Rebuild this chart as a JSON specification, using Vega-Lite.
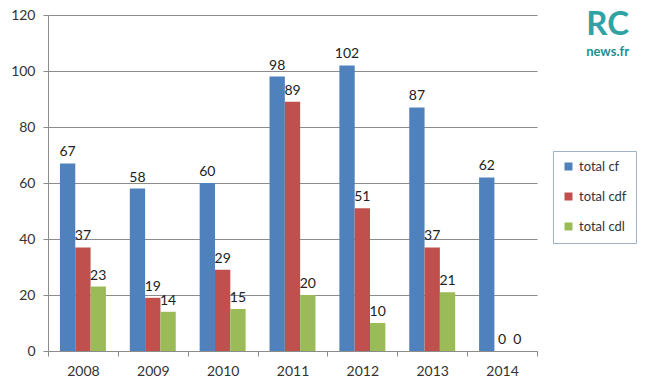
{
  "$schema": "https://vega.github.io/schema/vega-lite/v6.json",
  "autosize": {"type": "none"},
  "width": 489,
  "height": 336,
  "padding": {"left": 48, "top": 15, "right": 113, "bottom": 38},
  "background": "white",
  "config": {
    "font": "Lato",
    "view": {"stroke": null}
  },
  "title": {
    "text": "RC",
    "subtitle": "news.fr",
    "anchor": "end",
    "frame": "group",
    "orient": "top",
    "offset": -51,
    "dx": 92,
    "fontSize": 33,
    "fontWeight": "bold",
    "font": "Lato",
    "color": "#2fa3a3",
    "subtitleFont": "Lato",
    "subtitleFontSize": 13,
    "subtitleFontWeight": "bold",
    "subtitleColor": "#1f8f8f",
    "subtitlePadding": 4
  },
  "data": {
    "values": [
      {"year": "2008", "series": "total cf", "value": 67},
      {"year": "2008", "series": "total cdf", "value": 37},
      {"year": "2008", "series": "total cdl", "value": 23},
      {"year": "2009", "series": "total cf", "value": 58},
      {"year": "2009", "series": "total cdf", "value": 19},
      {"year": "2009", "series": "total cdl", "value": 14},
      {"year": "2010", "series": "total cf", "value": 60},
      {"year": "2010", "series": "total cdf", "value": 29},
      {"year": "2010", "series": "total cdl", "value": 15},
      {"year": "2011", "series": "total cf", "value": 98},
      {"year": "2011", "series": "total cdf", "value": 89},
      {"year": "2011", "series": "total cdl", "value": 20},
      {"year": "2012", "series": "total cf", "value": 102},
      {"year": "2012", "series": "total cdf", "value": 51},
      {"year": "2012", "series": "total cdl", "value": 10},
      {"year": "2013", "series": "total cf", "value": 87},
      {"year": "2013", "series": "total cdf", "value": 37},
      {"year": "2013", "series": "total cdl", "value": 21},
      {"year": "2014", "series": "total cf", "value": 62},
      {"year": "2014", "series": "total cdf", "value": 0},
      {"year": "2014", "series": "total cdl", "value": 0}
    ]
  },
  "encoding": {
    "x": {
      "field": "year",
      "type": "nominal",
      "scale": {"paddingInner": 0, "paddingOuter": 0},
      "axis": {
        "title": null,
        "labelAngle": 0,
        "labelFontSize": 14,
        "labelColor": "#333333",
        "labelPadding": 8,
        "tickBand": "extent",
        "tickSize": 5,
        "tickColor": "#8c8c8c",
        "domainColor": "#8c8c8c",
        "grid": false
      }
    },
    "xOffset": {
      "field": "series",
      "type": "nominal",
      "sort": ["total cf", "total cdf", "total cdl"],
      "scale": {"paddingInner": 0, "paddingOuter": 0.78}
    },
    "y": {
      "field": "value",
      "type": "quantitative",
      "scale": {"domain": [0, 120], "nice": false},
      "axis": {
        "title": null,
        "values": [0, 20, 40, 60, 80, 100, 120],
        "labelFontSize": 14,
        "labelColor": "#333333",
        "labelPadding": 8,
        "tickSize": 5,
        "tickColor": "#8c8c8c",
        "domainColor": "#8c8c8c",
        "gridColor": "#8c8c8c",
        "gridOpacity": 1
      }
    }
  },
  "layer": [
    {
      "mark": {"type": "bar"},
      "encoding": {
        "color": {
          "field": "series",
          "type": "nominal",
          "sort": ["total cf", "total cdf", "total cdl"],
          "scale": {
            "domain": ["total cf", "total cdf", "total cdl"],
            "range": ["#4f81bd", "#c0504d", "#9bbb59"]
          },
          "legend": {
            "title": null,
            "orient": "none",
            "legendX": 505,
            "legendY": 136,
            "symbolType": "square",
            "symbolSize": 64,
            "symbolStrokeWidth": 0,
            "labelFontSize": 13,
            "labelColor": "#333333",
            "rowPadding": 16,
            "padding": 9,
            "strokeColor": "#9fb2c6",
            "fillColor": "white"
          }
        }
      }
    },
    {
      "mark": {"type": "text", "baseline": "bottom", "dy": -4, "fontSize": 14, "color": "#222222"},
      "encoding": {
        "text": {"field": "value", "type": "quantitative"}
      }
    }
  ]
}
